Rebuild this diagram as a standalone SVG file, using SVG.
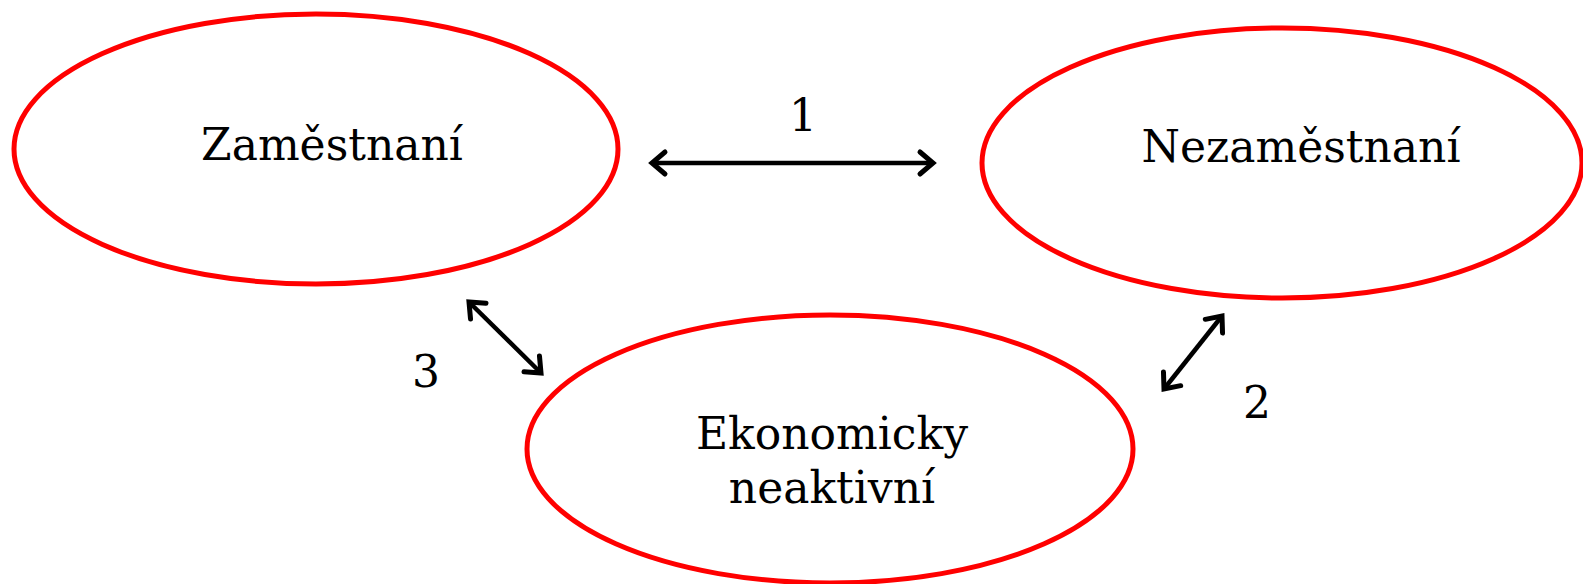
<svg xmlns="http://www.w3.org/2000/svg" width="1583" height="584" viewBox="0 0 1583 584">
<style>
.node{fill:#fff;stroke:#ff0000;stroke-width:5}
.lbl{font-family:"DejaVu Serif","Liberation Serif",serif;font-size:44px;fill:#000;text-anchor:middle}
.conn{stroke:#000;stroke-width:4.5;fill:none;marker-start:url(#ah);marker-end:url(#ah)}
</style>
<defs>
<marker id="ah" markerUnits="userSpaceOnUse" viewBox="-20 -16 24 32" refX="0" refY="0" markerWidth="24" markerHeight="32" orient="auto-start-reverse">
<path d="M -13 -11 L 0 0 L -13 11" fill="none" stroke="#000" stroke-width="5" stroke-linecap="round" stroke-linejoin="miter"/>
</marker>
</defs>
<rect width="1583" height="584" fill="#fff"/>
<g id="zamestnani">
<ellipse class="node" cx="316" cy="149" rx="302" ry="135"/>
<text class="lbl" x="332" y="160">Zaměstnaní</text>
</g>
<g id="nezamestnani">
<ellipse class="node" cx="1282" cy="163" rx="300" ry="135"/>
<text class="lbl" x="1301" y="162">Nezaměstnaní</text>
</g>
<g id="neaktivni">
<ellipse class="node" cx="830" cy="449" rx="303" ry="134"/>
<text class="lbl" x="832" y="449">Ekonomicky</text>
<text class="lbl" x="832" y="503">neaktivní</text>
</g>
<g id="connectors">
<line class="conn" x1="652" y1="163" x2="933" y2="163"/>
<line class="conn" x1="469" y1="302" x2="541" y2="373"/>
<line class="conn" x1="1222" y1="316" x2="1164" y2="389"/>
<text class="lbl" x="803" y="131">1</text>
<text class="lbl" x="1257" y="418">2</text>
<text class="lbl" x="426" y="387">3</text>
</g>
</svg>
